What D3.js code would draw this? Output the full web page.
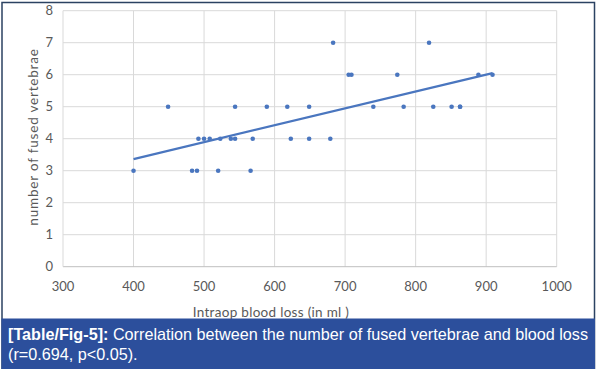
<!DOCTYPE html>
<html>
<head>
<meta charset="utf-8">
<title>Fused vertebrae vs blood loss</title>
<script src="https://d3js.org/d3.v7.min.js"></script>
<style>
  body { margin: 0; background: #fff; }
  svg { display: block; }
</style>
</head>
<body>
<div id="chart"></div>
<script>
// blood loss (ml) and number of fused vertebrae
const bloodLoss = [400, 483, 490, 520, 566,
  492, 500, 508, 523, 538, 544, 569, 623, 649, 679,
  449, 544, 589, 618, 649, 740, 783, 825, 851, 863, 863,
  705, 709, 774, 889, 909,
  683, 819];
const vertebrae = [3, 3, 3, 3, 3,
  4, 4, 4, 4, 4, 4, 4, 4, 4, 4,
  5, 5, 5, 5, 5, 5, 5, 5, 5, 5, 5,
  6, 6, 6, 6, 6,
  7, 7];
const xTicks = [300, 400, 500, 600, 700, 800, 900, 1000];
const yTicks = [0, 1, 2, 3, 4, 5, 6, 7, 8];

const W = 597, H = 369;
const blue = "#4a76bf";

const svg = d3.select("#chart").append("svg")
  .attr("width", W).attr("height", H);

const x = d3.scaleLinear().domain([300, 1000]).range([63, 556.7]);
const y = d3.scaleLinear().domain([0, 8]).range([266.7, 10.7]);

// grid
svg.append("g").selectAll("line").data(xTicks.slice(1)).join("line")
  .attr("x1", d => x(d)).attr("x2", d => x(d))
  .attr("y1", y(8)).attr("y2", y(0))
  .attr("stroke", "#d9d9d9").attr("stroke-width", 1);
svg.append("g").selectAll("line").data(yTicks.slice(1)).join("line")
  .attr("x1", x(300)).attr("x2", x(1000))
  .attr("y1", d => y(d)).attr("y2", d => y(d))
  .attr("stroke", "#d9d9d9").attr("stroke-width", 1);
// axis lines
svg.append("line").attr("x1", x(300)).attr("x2", x(1000))
  .attr("y1", y(0)).attr("y2", y(0)).attr("stroke", "#bfbfbf");
svg.append("line").attr("x1", x(300)).attr("x2", x(300))
  .attr("y1", y(8)).attr("y2", y(0)).attr("stroke", "#d9d9d9");

// tick labels
svg.append("g").selectAll("text").data(xTicks).join("text")
  .attr("x", d => x(d)).attr("y", 291)
  .attr("text-anchor", "middle")
  .attr("font-family", "Lato, sans-serif").attr("font-size", 13)
  .attr("fill", "#595959").text(d => d);
svg.append("g").selectAll("text").data(yTicks).join("text")
  .attr("x", 53).attr("y", d => y(d) + 4.5)
  .attr("text-anchor", "end")
  .attr("font-family", "Lato, sans-serif").attr("font-size", 13)
  .attr("fill", "#595959").text(d => d);

// axis titles
svg.append("text").attr("x", 271).attr("y", 317)
  .attr("text-anchor", "middle")
  .attr("font-family", "Lato, sans-serif").attr("font-size", 13.5)
  .attr("letter-spacing", 0.3)
  .attr("fill", "#595959").text("Intraop blood loss (in ml )");
svg.append("text")
  .attr("transform", "translate(38,137) rotate(-90)")
  .attr("text-anchor", "middle")
  .attr("font-family", "Lato, sans-serif").attr("font-size", 13.5)
  .attr("letter-spacing", 0.8)
  .attr("fill", "#595959").text("number of fused vertebrae");

// linear trend line (least squares)
const pts = bloodLoss.map((v, i) => [v, vertebrae[i]]);
const mx = d3.mean(bloodLoss), my = d3.mean(vertebrae);
const slope = d3.sum(pts, p => (p[0] - mx) * (p[1] - my)) /
  d3.sum(pts, p => (p[0] - mx) ** 2);
const icept = my - slope * mx;
const [x0, x1] = d3.extent(bloodLoss);
svg.append("path")
  .attr("d", d3.line()([[x(x0), y(icept + slope * x0)], [x(x1), y(icept + slope * x1)]]))
  .attr("stroke", blue).attr("stroke-width", 2.2).attr("fill", "none");

// points
svg.append("g").selectAll("circle").data(pts).join("circle")
  .attr("cx", d => x(d[0])).attr("cy", d => y(d[1]))
  .attr("r", 2.3).attr("fill", blue);

// frame
svg.append("rect").attr("x", 2).attr("y", 2.5)
  .attr("width", 592.5).attr("height", H - 2)
  .attr("fill", "none").attr("stroke", "#2b4262").attr("stroke-width", 1.5);

// caption
svg.append("rect").attr("x", 1.5).attr("y", 318.5)
  .attr("width", 593.5).attr("height", H - 318.5)
  .attr("fill", "#2c4f9c");
const cap = svg.append("g")
  .attr("font-family", "Liberation Sans, Arial, sans-serif")
  .attr("font-size", 16.2).attr("fill", "#fff");
const l1 = cap.append("text").attr("x", 8).attr("y", 340);
l1.append("tspan").attr("font-weight", "bold").text("[Table/Fig-5]:");
l1.append("tspan").text(" Correlation between the number of fused vertebrae and blood loss");
cap.append("text").attr("x", 8).attr("y", 360).text("(r=0.694, p<0.05).");
</script>
</body>
</html>
